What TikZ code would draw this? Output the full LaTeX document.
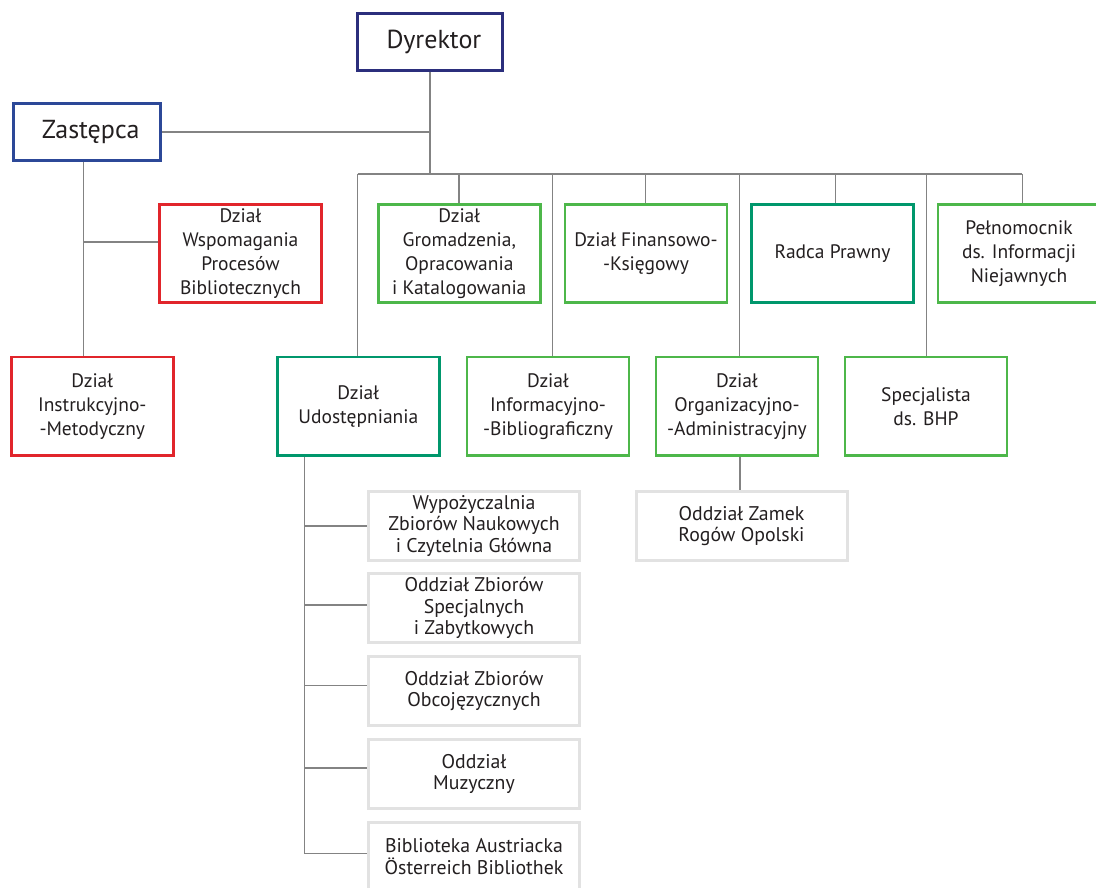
\documentclass[tikz,border=0pt]{standalone}
\usepackage{fontspec}
\setmainfont{PT Sans}
\definecolor{navy}{HTML}{2B2E7C}
\definecolor{zblue}{HTML}{2C4898}
\definecolor{dred}{HTML}{E1252B}
\definecolor{lgreen}{HTML}{4DB74A}
\definecolor{tgreen}{HTML}{00976C}
\definecolor{gbord}{HTML}{E2E2E2}
\definecolor{lgray}{HTML}{838383}
\definecolor{txt}{HTML}{231F20}
\begin{document}
\begin{tikzpicture}[x=1pt,y=-1pt,
  base/.style={draw, rectangle, align=center, text=txt, inner sep=0pt, fill=white},
  topbox/.style={base, line width=3pt, minimum width=145.5pt, minimum height=56.5pt, font=\fontsize{26}{30}\selectfont},
  cbox/.style={base, line width=2.6pt, minimum width=162pt, minimum height=98.5pt, font=\fontsize{19.5}{24}\selectfont},
  gbox/.style={base, draw=gbord, line width=3pt, minimum width=211pt, minimum height=69pt, font=\fontsize{19.8}{21.5}\selectfont},
  conn/.style={draw=lgray, line width=1.3pt}]
\clip (0,0) rectangle (1096,888);
\useasboundingbox (0,0) rectangle (1096,888);
\fill[white] (0,0) rectangle (1096,888);

% top level
\node[topbox, draw=navy] (dyr) at (430,42) {\hspace{8pt}Dyrektor};
\node[topbox, draw=zblue, minimum width=146.5pt, minimum height=57.5pt] (zas) at (87.2,132) {\hspace{7pt}Zastępca};

% top row
\node[cbox, draw=dred] (wsp) at (240.5,253.5) {Dział\\Wspomagania\\Procesów\\Bibliotecznych};
\node[cbox, draw=lgreen] (grom) at (459.3,253.5) {Dział\\Gromadzenia,\\Opracowania\\i Katalogowania};
\node[cbox, draw=lgreen] (fin) at (646,253.5) {Dział Finansowo-\\-Księgowy};
\node[cbox, draw=tgreen] (rad) at (832.5,253.5) {Radca Prawny};
\node[cbox, draw=lgreen] (pel) at (1019,253.5) {Pełnomocnik\\ds. Informacji\\Niejawnych};

% second row
\node[cbox, draw=dred] (ins) at (92.3,406.2) {Dział\\Instrukcyjno-\\-Metodyczny};
\node[cbox, draw=tgreen] (udo) at (358.3,406.2) {Dział\\Udostępniania};
\node[cbox, draw=lgreen] (inf) at (548,406.2) {Dział\\Informacyjno-\\-Bibliograficzny};
\node[cbox, draw=lgreen] (org) at (737,406.2) {Dział\\Organizacyjno-\\-Administracyjny};
\node[cbox, draw=lgreen] (spe) at (926,406.2) {Specjalista\\ds. BHP};

% gray boxes
\node[gbox] (wyp) at (474,526) {Wypożyczalnia\\Zbiorów Naukowych\\i Czytelnia Główna};
\node[gbox] (spz) at (474,608.3) {Oddział Zbiorów\\Specjalnych\\i Zabytkowych};
\node[gbox] (obc) at (474,691) {Oddział Zbiorów\\Obcojęzycznych};
\node[gbox] (muz) at (474,774) {Oddział\\Muzyczny};
\node[gbox] (aus) at (474,856.7) {Biblioteka Austriacka\\Österreich Bibliothek};
\node[gbox] (zam) at (741.5,526) {Oddział Zamek\\Rogów Opolski};

% bus coordinates
\coordinate (hub) at (430,174);
\coordinate (zj) at (430,132);
\coordinate (bL) at (357.7,174);
\coordinate (bR) at (1022.3,174);
\coordinate (d1) at (459,174);
\coordinate (d2) at (552.7,174);
\coordinate (d3) at (645.7,174);
\coordinate (d4) at (739.3,174);
\coordinate (d5) at (835.7,174);
\coordinate (d6) at (926.3,174);
\coordinate (zt) at (83.4,162);
\coordinate (zb) at (83.4,242);
\coordinate (ut) at (304.3,456.7);
\coordinate (ub) at (304.3,853.3);
\coordinate (ot) at (740,456.7);

% connectors
\path[conn] (dyr.south) -- (hub);
\path[conn] (zas.east) -- (zj);
\path[conn] (bL) -- (bR);
\path[conn] (bL) -- (bL |- udo.north);
\path[conn] (d1) -- (d1 |- grom.north);
\path[conn] (d2) -- (d2 |- inf.north);
\path[conn] (d3) -- (d3 |- fin.north);
\path[conn] (d4) -- (d4 |- org.north);
\path[conn] (d5) -- (d5 |- rad.north);
\path[conn] (d6) -- (d6 |- spe.north);
\path[conn] (bR) -- (bR |- pel.north);
\path[conn] (zt) -- (zt |- ins.north);
\path[conn] (zb) -- (zb -| wsp.west);
\path[conn] (ut) -- (ub);
\path[conn] (ut |- wyp.west) -- (wyp.west);
\path[conn] ([yshift=3.3pt]ut |- spz.west) -- ([yshift=3.3pt]spz.west);
\path[conn] ([yshift=5.7pt]ut |- obc.west) -- ([yshift=5.7pt]obc.west);
\path[conn] ([yshift=6pt]ut |- muz.west) -- ([yshift=6pt]muz.west);
\path[conn] (ub) -- (ub -| aus.west);
\path[conn] (ot) -- (ot |- zam.north);
\end{tikzpicture}
\end{document}
